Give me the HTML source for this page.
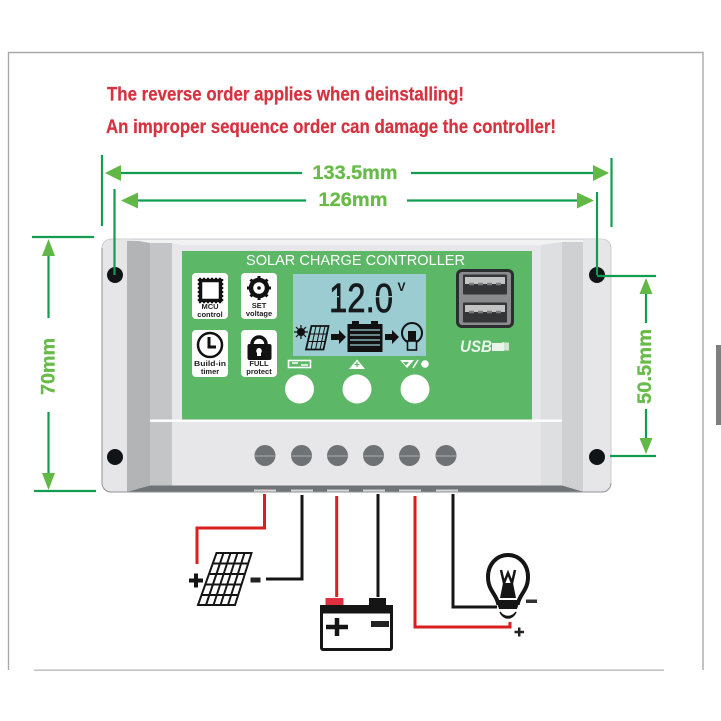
<!DOCTYPE html>
<html><head><meta charset="utf-8">
<style>html,body{margin:0;padding:0;background:#fff}svg{display:block;filter:blur(0.35px)}text{font-family:"Liberation Sans",sans-serif}</style>
</head><body>
<svg width="721" height="721" viewBox="0 0 721 721" xmlns="http://www.w3.org/2000/svg">
<defs>
<clipPath id="dev"><rect x="102" y="239" width="509" height="253" rx="9"/></clipPath>
</defs>
<rect width="721" height="721" fill="#fff"/>
<!-- frame -->
<path d="M8.5 670V52.5H703V670" fill="none" stroke="#a9a9a9" stroke-width="1.4"/>
<rect x="34" y="669.500" width="630" height="1.300" fill="#b5b5b5"/>
<rect x="716" y="345" width="5" height="80" fill="#7f7f7f"/>
<!-- title -->
<g fill="#d6323f" font-weight="bold" font-size="19.500" stroke="#d6323f" stroke-width="0.250">
<text x="107" y="100.500" textLength="357" lengthAdjust="spacingAndGlyphs">The reverse order applies when deinstalling!</text>
<text x="106" y="133" textLength="450" lengthAdjust="spacingAndGlyphs">An improper sequence order can damage the controller!</text>
</g>
<!-- device -->
<g clip-path="url(#dev)">
<rect x="102" y="239" width="509" height="253" fill="#e6e6e8"/>
<rect x="127" y="241" width="23" height="251" fill="#b3b4b6"/>
<rect x="150" y="241" width="22" height="251" fill="#c4c5c7"/>
<rect x="172" y="241" width="369" height="251" fill="#e7e7e9"/>
<rect x="541" y="241" width="21" height="251" fill="#dedfe1"/>
<rect x="562" y="241" width="21" height="251" fill="#cfd0d2"/>
<path d="M102 239H611V240H127ZM127 239L150 243H172L181 245H541L562 242H583V239Z" fill="#f2f2f3"/>
<path d="M102 492.500L127 492L150 485.500H562L584 492H611V494H102Z" fill="#6f7577"/>
<rect x="150" y="419.500" width="412" height="2.500" fill="#fdfdfd"/>
</g>
<path d="M102 248a9 9 0 0 1 9-9H602a9 9 0 0 1 9 9V483" fill="none" stroke="#c4c4c6" stroke-width="0.800"/>
<path d="M102 248V483a9 9 0 0 0 9 9H602a9 9 0 0 0 9-9" fill="none" stroke="#8f9294" stroke-width="1"/>
<rect x="182" y="251" width="350" height="168.500" fill="#5cb767"/>
<text x="246" y="265" fill="#fff" font-size="14.500" textLength="219" lengthAdjust="spacingAndGlyphs">SOLAR CHARGE CONTROLLER</text>
<!-- screws -->
<g fill="#111416"><circle cx="115" cy="275" r="8"/><circle cx="115" cy="457" r="8"/><circle cx="597" cy="275" r="8"/><circle cx="597" cy="457" r="8"/></g>
<!-- holes -->
<g fill="#6e7274">
<circle cx="265" cy="455.500" r="10.500"/><circle cx="301.500" cy="455.500" r="10.500"/><circle cx="337.500" cy="455.500" r="10.500"/><circle cx="373.500" cy="455.500" r="10.500"/><circle cx="409.500" cy="455.500" r="10.500"/><circle cx="446" cy="455.500" r="10.500"/>
</g>
<g fill="#8c9092">
<rect x="255" y="455" width="20" height="2"/><rect x="291.500" y="455" width="20" height="2"/><rect x="327.500" y="455" width="20" height="2"/><rect x="363.500" y="455" width="20" height="2"/><rect x="399.500" y="455" width="20" height="2"/><rect x="436" y="455" width="20" height="2"/>
</g>
<g fill="#d3d5d6">
<rect x="254" y="489.500" width="22" height="2"/><rect x="291" y="489.500" width="22" height="2"/><rect x="327" y="489.500" width="22" height="2"/><rect x="363" y="489.500" width="22" height="2"/><rect x="399" y="489.500" width="22" height="2"/><rect x="436" y="489.500" width="22" height="2"/>
</g>
<!-- tiles -->
<g fill="#fff">
<rect x="192" y="273" width="36" height="46" rx="4"/>
<rect x="241" y="273" width="36" height="46" rx="4"/>
<rect x="192" y="330" width="36" height="47" rx="4"/>
<rect x="241" y="330" width="36" height="47" rx="4"/>
</g>
<!-- MCU icon -->
<rect x="200.500" y="280.500" width="20" height="20" fill="#fff" stroke="#111" stroke-width="3.500"/>
<path d="M199 278.500h23M199 302.500h23M198.500 279v23M222.500 279v23" stroke="#111" stroke-width="1.500" stroke-dasharray="2 2" fill="none"/>
<!-- gear -->
<circle cx="259" cy="288" r="8" fill="none" stroke="#111" stroke-width="4.500"/>
<circle cx="259" cy="288" r="1.800" fill="#111"/>
<path d="M259 276v24M247 288h24M250.500 279.500l17 17M267.500 279.500l-17 17" stroke="#111" stroke-width="3" stroke-dasharray="3.500 17 3.500"/>
<!-- clock -->
<circle cx="210" cy="345" r="12" fill="#fff" stroke="#111" stroke-width="2.500"/>
<path d="M209 337v10h7" fill="none" stroke="#111" stroke-width="3"/>
<!-- lock -->
<path d="M252 350v-6a7 7 0 0 1 14 0v6" fill="none" stroke="#111" stroke-width="3.500"/>
<rect x="247.500" y="344" width="24" height="16" rx="2" fill="#111"/>
<path d="M259 348a3 3 0 0 1 2 5v3h-4v-3a3 3 0 0 1 2-5z" fill="#fff"/>
<g fill="#222" font-weight="bold" font-size="7.500" text-anchor="middle">
<text x="210" y="309">MCU</text><text x="210" y="317">control</text>
<text x="259" y="308">SET</text><text x="259" y="316">voltage</text>
<text x="210" y="366" textLength="32" lengthAdjust="spacingAndGlyphs">Build-in</text><text x="210" y="374">timer</text>
<text x="259" y="366">FULL</text><text x="259" y="374">protect</text>
</g>
<!-- LCD -->
<rect x="293" y="274" width="133" height="82" fill="#9accd2"/>
<text x="329" y="312" fill="#161a1c" font-size="41" textLength="64" lengthAdjust="spacingAndGlyphs" stroke="#161a1c" stroke-width="0.700">12.0</text>
<rect x="329" y="296" width="10" height="1.300" fill="#9accd2"/>
<rect x="370" y="296" width="24" height="1.300" fill="#9accd2"/>
<text x="397.500" y="291" fill="#161a1c" font-size="12" font-weight="bold">V</text>
<!-- sun -->
<circle cx="301" cy="332" r="4" fill="#111"/>
<path d="M301 325v14M294 332h14M296 327l10 10M306 327l-10 10" stroke="#111" stroke-width="1.200"/>
<!-- lcd panel -->
<path d="M311.500 326H328.500L323.500 349.500H306Z" fill="#9accd2" stroke="#111" stroke-width="1.800"/>
<path d="M310.500 334H326.500M309 341.500H325M316 326l-5 23.500M320.500 326l-5 23.500M325 326l-5 23.500" stroke="#111" stroke-width="1"/>
<path d="M331 334h8v-4l7 7-7 7v-4h-8z" fill="#111"/>
<rect x="347.500" y="324" width="35" height="28" fill="#111"/>
<rect x="352" y="321" width="7" height="4" fill="#111"/><rect x="371" y="321" width="7" height="4" fill="#111"/>
<path d="M350 330h30M350 335h30M350 340h30M350 345h30" stroke="#9accd2" stroke-width="1.200"/>
<path d="M385 334h7v-4l7 7-7 7v-4h-7z" fill="#111"/>
<circle cx="412" cy="333" r="10" fill="#9accd2" stroke="#111" stroke-width="2"/>
<rect x="408" y="331" width="8" height="11" fill="#111"/>
<rect x="407.500" y="341" width="9" height="9" fill="#9accd2" stroke="#111" stroke-width="1.600"/>
<!-- symbols above buttons -->
<rect x="288.500" y="360.500" width="22" height="7" fill="#5cb767" stroke="#fff" stroke-width="1.600"/>
<path d="M292 363h6M301 365h7" stroke="#fff" stroke-width="1.400"/>
<path d="M357 359.500l8 9.500h-16z" fill="#fff"/>
<path d="M357 362v5M354.500 364.500h5" stroke="#5cb767" stroke-width="1.200"/>
<path d="M400 360h14l-7 8zM403 362h6l-3 3.500z" fill="#fff" fill-rule="evenodd"/>
<path d="M418 360l-5 8" stroke="#fff" stroke-width="1.600"/>
<circle cx="425" cy="364" r="3.800" fill="#fff"/>
<!-- buttons -->
<g fill="#fff"><circle cx="299.500" cy="389" r="14.500"/><circle cx="357" cy="389" r="14.500"/><circle cx="415" cy="389" r="14.500"/></g>
<!-- USB -->
<rect x="456" y="269" width="58" height="59" rx="6" fill="#2b2d2e"/>
<rect x="459" y="272" width="52" height="53" rx="3" fill="#8a8b8c"/>
<rect x="463" y="274.500" width="44" height="20" rx="1" fill="#353637"/>
<rect x="463" y="302.500" width="44" height="20" rx="1" fill="#353637"/>
<rect x="465" y="277" width="40" height="7" fill="#c4c4c4"/>
<rect x="465" y="305" width="40" height="7" fill="#c4c4c4"/>
<path d="M469 284h5M478 284h5M487 284h5M496 284h5M469 312h5M478 312h5M487 312h5M496 312h5" stroke="#7c7c7c" stroke-width="2.500"/>
<text x="460" y="352" fill="#e9f4ea" font-size="17" font-weight="bold" font-style="italic" textLength="32" lengthAdjust="spacingAndGlyphs">USB</text>
<path d="M492 343h9l3-1v9h-12z" fill="#e9f4ea"/>
<rect x="504" y="342.500" width="5" height="8" fill="#cfe6d1"/>
<!-- dimension lines -->
<g stroke="#129c4f" stroke-width="2.200" fill="none">
<path d="M102 155V226M611.500 158V227M114.500 189V275M597 192V275"/>
<path d="M116 173H302M411 173H597M132 200.500H306M407 200.500H582"/>
<path d="M32 237H94M34 491H96M597 276H656M610 456H656"/>
<path d="M48.500 250V318M48.500 412V478M646 290V323M646 409V444"/>
</g>
<g fill="#62b846">
<path d="M105 173L121 165V181ZM609 173L593 165V181ZM121 200.500L138 192.500V208.500ZM594 200.500L577 192.500V208.500Z"/>
<path d="M48.500 239L42 256H55ZM48.500 490L42 473H55ZM646 278L639.500 294H652.500ZM646 454L639.500 438H652.500Z"/>
</g>
<g fill="#68bb48" font-weight="bold" font-size="19" text-anchor="middle" stroke="#68bb48" stroke-width="0.300">
<text x="355" y="179" textLength="85" lengthAdjust="spacingAndGlyphs">133.5mm</text>
<text x="353" y="206" textLength="69" lengthAdjust="spacingAndGlyphs">126mm</text>
<text transform="translate(54.500,366.500) rotate(-90)" textLength="57" lengthAdjust="spacingAndGlyphs">70mm</text>
<text transform="translate(651,366.500) rotate(-90)" textLength="75" lengthAdjust="spacingAndGlyphs">50.5mm</text>
</g>
<!-- wires -->
<g fill="none" stroke-width="3">
<path d="M264.500 494V528H197V564" stroke="#d9201f"/>
<path d="M302 495V579H266" stroke="#151515"/>
<path d="M336.700 496V597" stroke="#d9201f"/>
<path d="M378 494V597" stroke="#151515"/>
<path d="M415 496V627H510V622" stroke="#d9201f"/>
<path d="M453 494V607H497" stroke="#151515"/>
</g>
<!-- solar panel -->
<path d="M216.500 553H251.500L235 605H198Z" fill="#fff" stroke="#151515" stroke-width="2"/>
<path d="M213 563.500H248M209.500 574H245M206 584.500H241.500M202 595H238M223.500 553L206 605M230.500 553L213.500 605M237.500 553L220.500 605M244.500 553L228 605" stroke="#151515" stroke-width="2"/>
<path d="M189 580.500H203M196 573.500V587.500" stroke="#151515" stroke-width="4"/>
<rect x="250.500" y="577.500" width="10" height="5" fill="#222"/>
<!-- battery -->
<rect x="325.500" y="598" width="18" height="8" fill="#e0303f"/>
<rect x="369" y="598" width="17" height="8" fill="#151515"/>
<rect x="321.500" y="606.500" width="70" height="43" rx="1.500" fill="#fff" stroke="#151515" stroke-width="3"/>
<rect x="320" y="605" width="73" height="8.500" fill="#151515"/>
<path d="M326 627H348M337 618V636" stroke="#151515" stroke-width="4.500"/>
<rect x="371" y="621" width="18" height="6" fill="#222"/>
<!-- bulb -->
<path d="M498 603C496 594 488 590 488 577C488 564 497 555 508 555C519 555 528 564 528 577C528 590 520 594 518 603Z" fill="#fff" stroke="#151515" stroke-width="4"/>
<path d="M501 570L504 583L508 573L512 583L515 570" fill="none" stroke="#151515" stroke-width="2.500"/>
<path d="M503 583H513L516 598H500Z" fill="#151515"/>
<path d="M496 600H520L517 609H499Z" fill="#151515"/>
<path d="M500 612C504 618 512 618 516 612C512 620 504 620 500 612Z" fill="#151515" stroke="#151515" stroke-width="1.500"/>
<rect x="526" y="599.500" width="11" height="3.500" fill="#333"/>
<path d="M514.500 632H524M519.200 627.500V636.500" stroke="#222" stroke-width="2.500"/>
</svg>
</body></html>
